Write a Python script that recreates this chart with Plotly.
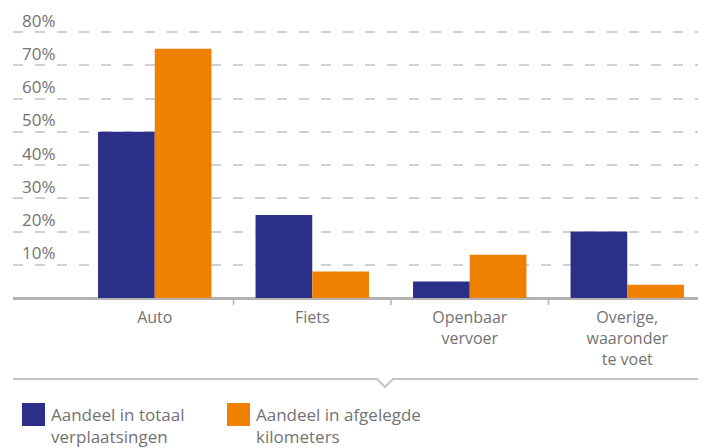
import plotly.graph_objects as go

categories = ["Auto", "Fiets", "Openbaar<br>vervoer", "Overige,<br>waaronder<br>te voet"]
verplaatsingen = [50, 25, 5, 20]
kilometers = [75, 8, 13, 4]
series_names = ["Aandeel in totaal<br>verplaatsingen", "Aandeel in afgelegde<br>kilometers"]
y_ticks = [10, 20, 30, 40, 50, 60, 70, 80]
y_tick_text = [f"{v}%" for v in y_ticks]

BLUE = "#2c2f87"
ORANGE = "#f08100"
TEXT = "#737373"
GRID = "#cfd0d2"
AXIS = "#b3b3b3"
FONT = "Open Sans"

# page body has an 8px default margin; work in page pixels and convert
OFF = 8
W, H = 706 - OFF, 448 - OFF
ML, MR, MT, MB = 13 - OFF, 0, 0, 448 - 298
PW = W - ML - MR
PH = H - MT - MB


def px(x):
    return (x - OFF - ML) / PW


def py(y):
    return (H - MB - (y - OFF)) / PH


fig = go.Figure()
fig.add_trace(go.Bar(x=categories, y=verplaatsingen, name=series_names[0],
                     marker=dict(color=BLUE, line=dict(width=0)), showlegend=False))
fig.add_trace(go.Bar(x=categories, y=kilometers, name=series_names[1],
                     marker=dict(color=ORANGE, line=dict(width=0)), showlegend=False))

shapes = []
# category boundary ticks below baseline
for b in [0.5, 1.5, 2.5]:
    shapes.append(dict(type="line", xref="x", yref="paper", x0=b, x1=b,
                       y0=py(299), y1=py(305), line=dict(color=AXIS, width=1.5)))
# divider line with notch
path = (f"M {px(13)},{py(379)} L {px(377)},{py(379)} L {px(385)},{py(387)} "
        f"L {px(393)},{py(379)} L {px(706)},{py(379)}")
shapes.append(dict(type="path", xref="paper", yref="paper", path=path,
                   line=dict(color="#c4c4c4", width=2)))
# legend swatches
for x0, col in [(22, BLUE), (227, ORANGE)]:
    shapes.append(dict(type="rect", xref="paper", yref="paper",
                       x0=px(x0), x1=px(x0 + 23), y0=py(403), y1=py(426),
                       fillcolor=col, line=dict(width=0)))

annotations = []
# y tick labels sitting above their gridlines
for v, t in zip(y_ticks, y_tick_text):
    annotations.append(dict(xref="paper", yref="y", x=px(21), y=v, yshift=12,
                            xanchor="left", yanchor="middle", text=t,
                            showarrow=False, borderpad=0,
                            font=dict(family=FONT, size=17, color=TEXT)))
for x0, name in [(50, series_names[0]), (255, series_names[1])]:
    annotations.append(dict(xref="paper", yref="paper", x=px(x0), y=py(402),
                            xanchor="left", yanchor="top", align="left",
                            text=name, showarrow=False, borderpad=0,
                            font=dict(family=FONT, size=17, color=TEXT)))

fig.update_layout(
    width=W, height=H,
    margin=dict(l=ML, r=MR, t=MT, b=MB, pad=0),
    paper_bgcolor="white", plot_bgcolor="white",
    barmode="group", bargap=0.28, bargroupgap=0,
    font=dict(family=FONT, color=TEXT),
    shapes=shapes, annotations=annotations,
    showlegend=False,
)
fig.update_xaxes(
    range=[-0.9, 3.5], showgrid=False, showline=False, ticks="",
    tickfont=dict(family=FONT, size=16, color=TEXT), ticklabelstandoff=8,
    fixedrange=True,
)
fig.update_yaxes(
    range=[0, (PH) / ((298 - 32) / 80)], tickvals=y_ticks,
    showgrid=True, gridcolor=GRID, gridwidth=2, griddash="10px,12px",
    zeroline=True, zerolinecolor=AXIS, zerolinewidth=2.5,
    showline=False, ticks="", showticklabels=False,
    fixedrange=True,
)

fig.write_html("out.html")
